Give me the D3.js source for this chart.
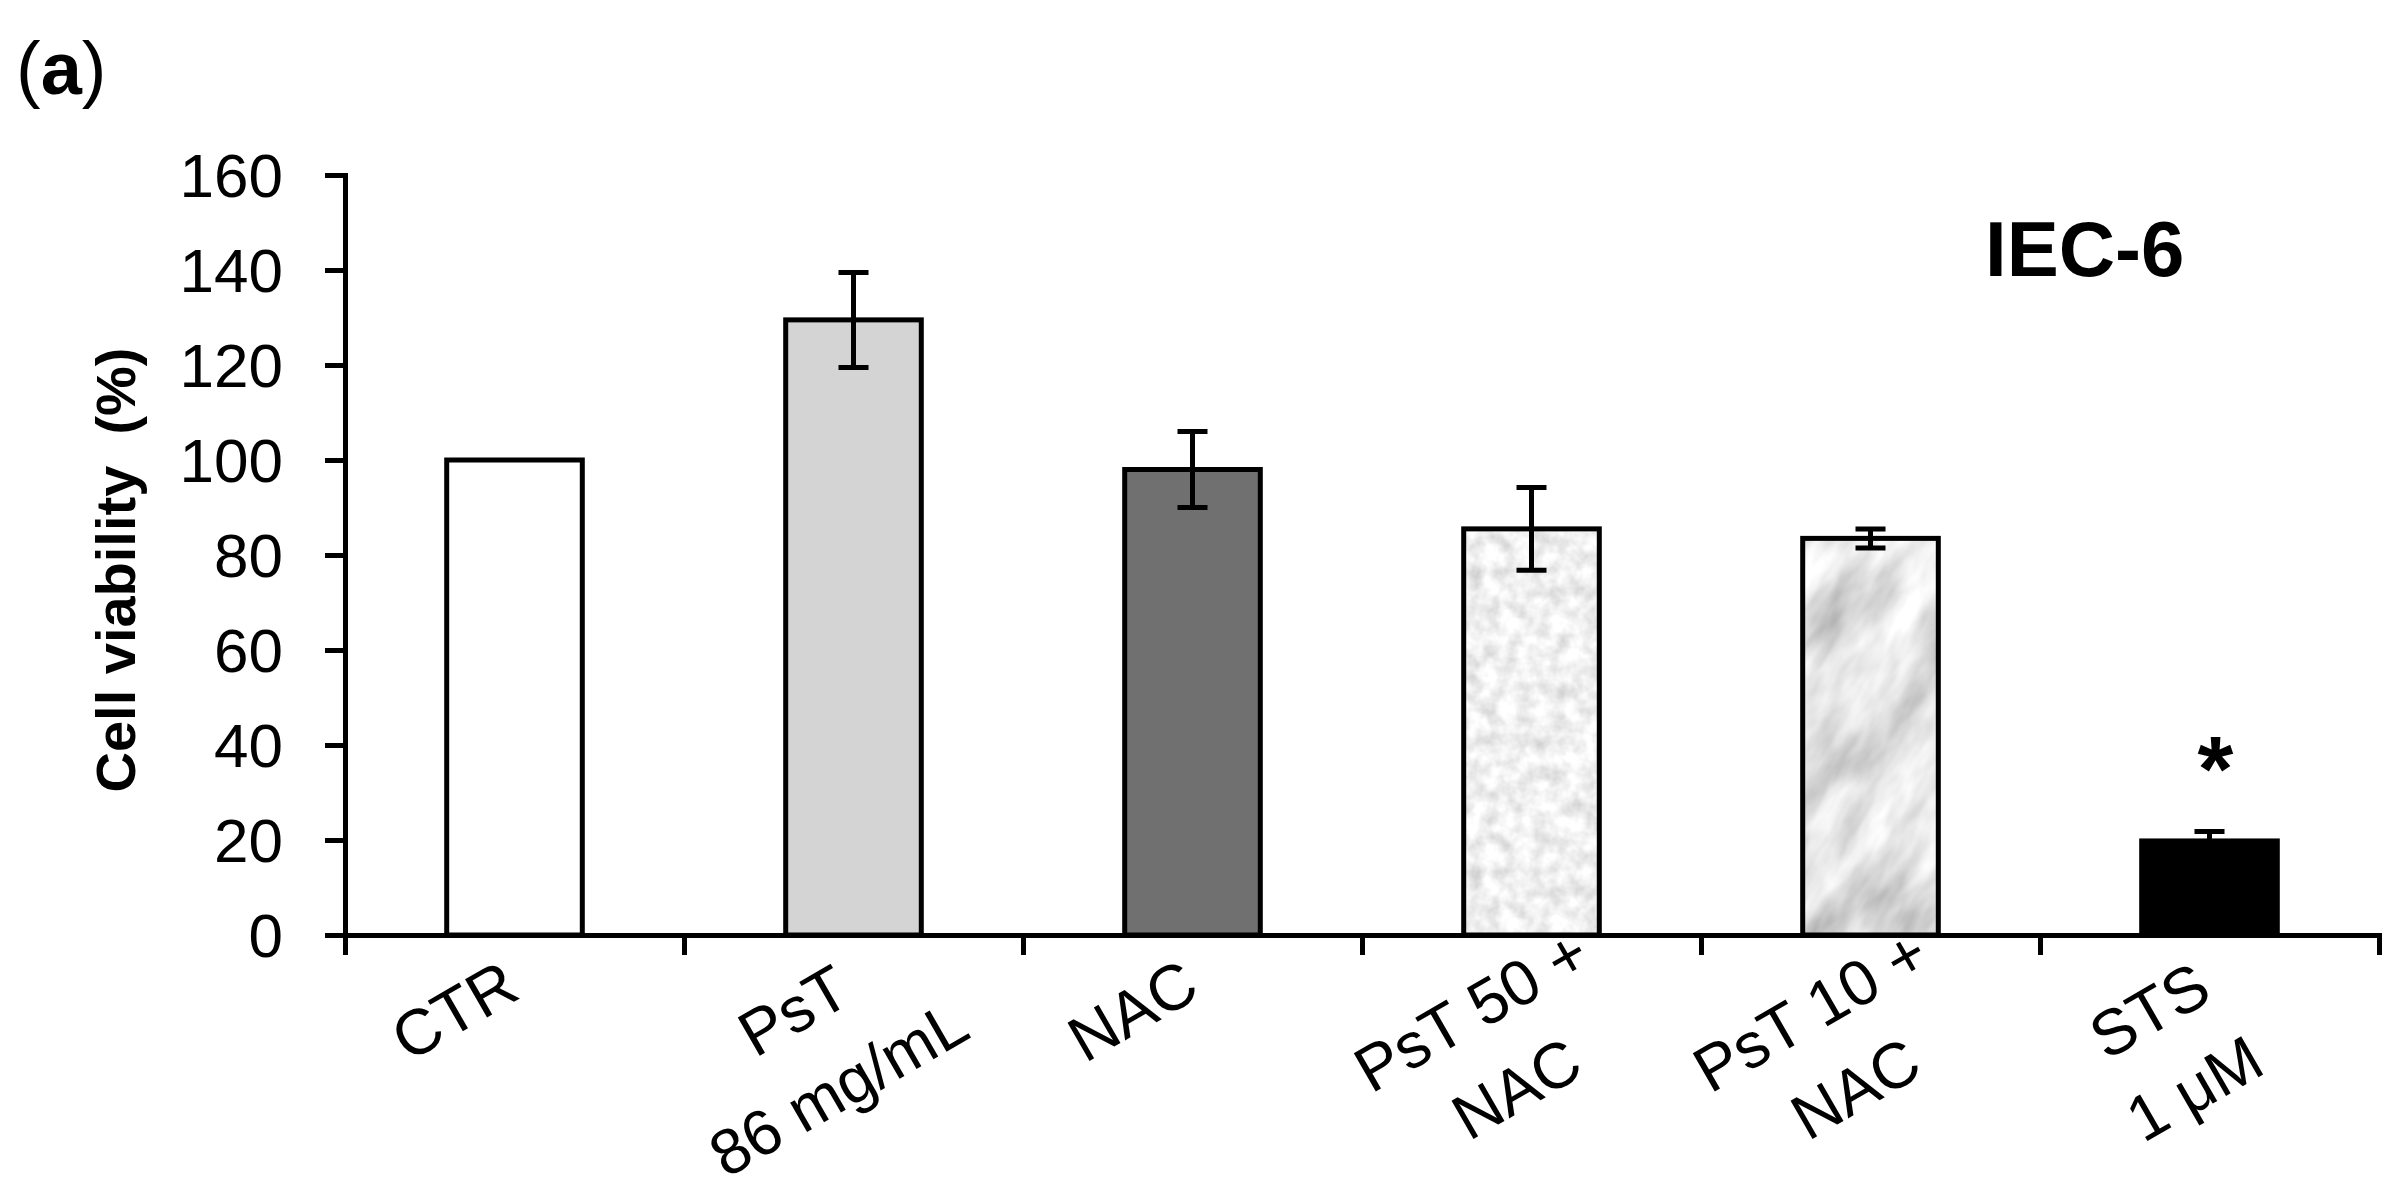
<!DOCTYPE html>
<html>
<head>
<meta charset="utf-8">
<script src="https://cdn.jsdelivr.net/npm/d3@7"></script>
<style>
    html, body { margin: 0; padding: 0; background: #fff; }
    svg { display: block; font-family: "Liberation Sans", Arial, sans-serif; }
</style>
</head>
<body>
<script>
const categories = ['CTR', 'PsT 86 mg/mL', 'NAC', 'PsT 50 + NAC', 'PsT 10 + NAC', 'STS 1 \u03bcM'];
const labelLines = [['CTR'], ['PsT', '86 mg/mL'], ['NAC'], ['PsT 50 +', 'NAC'], ['PsT 10 +', 'NAC'], ['STS', '1 \u03bcM']];
const viability = [100, 129.5, 98, 85.5, 83.5, 19.8];
const errors = [0, 10, 8, 8.7, 2, 2];
const fills = ['#ffffff', '#d4d4d4', '#707070', 'url(#speckle)', 'url(#marble)', '#000000'];
const yTicks = [0, 20, 40, 60, 80, 100, 120, 140, 160];
const significant = [false, false, false, false, false, true];

const W = 2405, H = 1200;

const svg = d3.select('body').append('svg')
    .attr('width', W).attr('height', H)
    .attr('viewBox', `0 0 ${W} ${H}`);

svg.append('rect').attr('width', W).attr('height', H).attr('fill', '#fff');

function textures(svg) {
    const defs = svg.append('defs');

    // fine grey speckle
    const f1 = defs.append('filter').attr('id', 'speckleNoise')
        .attr('x', 0).attr('y', 0).attr('width', 1).attr('height', 1);
    f1.append('feTurbulence').attr('type', 'fractalNoise')
        .attr('baseFrequency', 0.06).attr('numOctaves', 3).attr('seed', 3).attr('stitchTiles', 'stitch');
    f1.append('feColorMatrix').attr('type', 'matrix')
        .attr('values', '0.6 0 0 0 0.58  0.6 0 0 0 0.58  0.6 0 0 0 0.58  0 0 0 0 1');

    const p1 = defs.append('pattern').attr('id', 'speckle')
        .attr('patternUnits', 'userSpaceOnUse').attr('width', 300).attr('height', 300);
    p1.append('rect').attr('width', 300).attr('height', 300).attr('filter', 'url(#speckleNoise)');

    // blotchy marble
    const f2 = defs.append('filter').attr('id', 'marbleNoise')
        .attr('x', 0).attr('y', 0).attr('width', 1).attr('height', 1);
    f2.append('feTurbulence').attr('type', 'fractalNoise')
        .attr('baseFrequency', '0.009 0.022').attr('numOctaves', 4).attr('seed', 7).attr('stitchTiles', 'stitch');
    f2.append('feColorMatrix').attr('type', 'matrix')
        .attr('values', '1.1 0 0 0 0.24  1.1 0 0 0 0.24  1.1 0 0 0 0.24  0 0 0 0 1');

    const p2 = defs.append('pattern').attr('id', 'marble')
        .attr('patternUnits', 'userSpaceOnUse').attr('width', 900).attr('height', 900)
        .attr('patternTransform', 'rotate(-60)');
    p2.append('rect').attr('width', 900).attr('height', 900).attr('filter', 'url(#marbleNoise)');
}

textures(svg);

const x = d3.scaleBand().domain(categories).range([345, 2379]);
const xEdge = d3.scaleLinear().domain([0, categories.length]).range([345, 2379]);
const y = d3.scaleLinear().domain([0, 160]).range([935, 175]);

const barW = x.bandwidth() * 0.4;
const g = svg.append('g');

// bars
g.selectAll('rect.bar')
    .data(categories)
    .join('rect')
    .attr('class', 'bar')
    .attr('x', d => x(d) + (x.bandwidth() - barW) / 2)
    .attr('y', (d, i) => y(viability[i]))
    .attr('width', barW)
    .attr('height', (d, i) => y(0) - y(viability[i]))
    .attr('fill', (d, i) => fills[i])
    .attr('stroke', '#000')
    .attr('stroke-width', 5);

// error bars
const capW = 30;
const eb = g.selectAll('g.err')
    .data(categories.filter((d, i) => errors[i] > 0))
    .join('g')
    .attr('class', 'err')
    .attr('stroke', '#000').attr('stroke-width', 5).attr('fill', 'none');

eb.each(function (d) {
    const i = categories.indexOf(d);
    const cx = x(d) + x.bandwidth() / 2;
    const top = y(viability[i] + errors[i]);
    const bot = y(viability[i] - errors[i]);
    const p = d3.path();
    p.moveTo(cx, top);
    p.lineTo(cx, bot);
    p.moveTo(cx - capW / 2, top);
    p.lineTo(cx + capW / 2, top);
    p.moveTo(cx - capW / 2, bot);
    p.lineTo(cx + capW / 2, bot);
    d3.select(this).append('path').attr('d', p);
});

// significance mark
g.selectAll('text.star')
    .data(categories.filter((d, i) => significant[i]))
    .join('text')
    .attr('class', 'star')
    .attr('x', d => x(d) + x.bandwidth() / 2 + 6)
    .attr('y', d => y(viability[categories.indexOf(d)] + errors[categories.indexOf(d)]) - 30)
    .attr('text-anchor', 'middle')
    .attr('font-size', 92)
    .attr('font-weight', 'bold')
    .text('*');

// y axis
const yAxis = svg.append('g')
    .attr('transform', `translate(${xEdge(0)},0)`)
    .call(d3.axisLeft(y).tickValues(yTicks).tickSize(20).tickPadding(42));
yAxis.selectAll('.tick line').attr('stroke-width', 5);
yAxis.select('.domain').attr('stroke-width', 5);
yAxis.selectAll('.tick text')
    .attr('font-size', 62).attr('fill', '#000')
    .attr('font-family', '"Liberation Sans", Arial, sans-serif')
    .attr('dy', '0.35em');

// x axis, ticks between the categories
const xAxis = svg.append('g')
    .attr('transform', `translate(0,${y(0)})`)
    .call(d3.axisBottom(xEdge).ticks(categories.length).tickSize(20).tickFormat(''));
xAxis.selectAll('.tick line').attr('stroke-width', 5);
xAxis.select('.domain').attr('stroke-width', 5);

// slanted category labels
const lab = svg.append('g')
    .attr('font-size', 64)
    .attr('fill', '#000');

lab.selectAll('g.lab')
    .data(categories)
    .join('g')
    .attr('class', 'lab')
    .attr('transform', d => `translate(${x(d) + x.bandwidth() / 2 - 76},${y(0) + 48}) rotate(-30)`)
    .each(function (d, i) {
        d3.select(this).selectAll('text')
            .data(labelLines[i])
            .join('text')
            .attr('text-anchor', 'middle')
            .attr('x', 0)
            .attr('y', (t, j) => 54 + j * 90)
            .text(t => t);
    });

// axis title
svg.append('text')
    .attr('transform', 'translate(135,570) rotate(-90)')
    .attr('text-anchor', 'middle')
    .attr('font-size', 56)
    .attr('font-weight', 'bold')
    .attr('xml:space', 'preserve')
    .style('white-space', 'pre')
    .text('Cell viability  (%)');

// cell line tag
svg.append('text')
    .attr('x', 1985).attr('y', 276)
    .attr('font-size', 78)
    .attr('font-weight', 'bold')
    .text('IEC-6');

// panel letter
const panel = svg.append('text')
    .attr('x', 16).attr('y', 94)
    .attr('font-size', 74);
panel.append('tspan').text('(');
panel.append('tspan').attr('font-weight', 'bold').text('a');
panel.append('tspan').text(')');
</script>
</body>
</html>
